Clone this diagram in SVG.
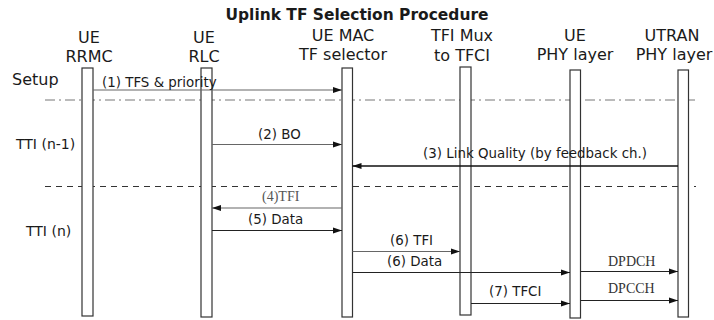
<svg xmlns="http://www.w3.org/2000/svg" width="714" height="320" viewBox="0 0 714 320">
<style>
  .title{font-family:"DejaVu Sans",Verdana,sans-serif;font-weight:bold;font-size:15px;fill:#1a1a1a;text-anchor:middle}
  .hdr{font-family:"DejaVu Sans",Verdana,sans-serif;font-size:16px;fill:#1a1a1a;text-anchor:middle}
  .side{font-family:"DejaVu Sans",Verdana,sans-serif;font-size:14px;fill:#1a1a1a}
  .lbl{font-family:"DejaVu Sans",Verdana,sans-serif;font-size:13.4px;fill:#1a1a1a}
  .ser{font-family:"Liberation Serif","Times New Roman",serif;font-size:14px;fill:#333}
  .bar{fill:#fff;stroke:#333;stroke-width:1.2}
  .msg{fill:none;stroke:#222;stroke-width:1.2}
  .msg.g{stroke:#666}
  .msg.b{stroke:#111;stroke-width:1.6}
  .sep1{stroke:#777;stroke-width:1;stroke-dasharray:10 4 2 4}
  .sep2{stroke:#333;stroke-width:1;stroke-dasharray:6 5}
</style>
<defs>
  <marker id="ah" markerUnits="userSpaceOnUse" markerWidth="10" markerHeight="8" refX="9" refY="4" orient="auto">
    <path d="M0,1 L9,4 L0,7 Z" fill="#111"/>
  </marker>
</defs>
<rect width="714" height="320" fill="#fff"/>
<text class="title" x="357" y="20" textLength="263" lengthAdjust="spacingAndGlyphs">Uplink TF Selection Procedure</text>

<g id="sections">
  <line class="sep1" x1="45" y1="100" x2="696" y2="100"/>
  <line class="sep2" x1="45" y1="186.5" x2="696" y2="186.5"/>
  <text class="side" x="12" y="85" style="font-size:16px">Setup</text>
  <text class="side" x="16" y="149">TTI (n-1)</text>
  <text class="side" x="26" y="236">TTI (n)</text>
</g>

<g id="ue-rrmc">
  <text class="hdr" x="89" y="43">UE</text>
  <text class="hdr" x="89" y="62">RRMC</text>
  <rect class="bar" x="82" y="68" width="11" height="248"/>
</g>
<g id="ue-rlc">
  <text class="hdr" x="204" y="43">UE</text>
  <text class="hdr" x="204" y="62">RLC</text>
  <rect class="bar" x="201" y="68" width="11" height="249"/>
</g>
<g id="ue-mac">
  <text class="hdr" x="343" y="41">UE MAC</text>
  <text class="hdr" x="343" y="59.5">TF selector</text>
  <rect class="bar" x="342" y="68" width="10.5" height="249"/>
</g>
<g id="tfi-mux">
  <text class="hdr" x="462" y="41">TFI Mux</text>
  <text class="hdr" x="462" y="61">to TFCI</text>
  <rect class="bar" x="460" y="67" width="11" height="248"/>
</g>
<g id="ue-phy">
  <text class="hdr" x="575" y="41">UE</text>
  <text class="hdr" x="575" y="60">PHY layer</text>
  <rect class="bar" x="570" y="70" width="10.5" height="248"/>
</g>
<g id="utran-phy">
  <text class="hdr" x="672" y="41">UTRAN</text>
  <text class="hdr" x="674" y="60">PHY layer</text>
  <rect class="bar" x="678" y="70" width="10.5" height="247"/>
</g>

<g id="connectors">
  <line class="msg g" x1="93" y1="90" x2="342" y2="90" marker-end="url(#ah)"/>
  <text class="lbl" x="102" y="87">(1) TFS &amp; priority</text>

  <line class="msg g" x1="212" y1="144.5" x2="342" y2="144.5" marker-end="url(#ah)"/>
  <text class="lbl" x="258" y="139">(2) BO</text>

  <line class="msg b" x1="678" y1="166" x2="352.5" y2="166" marker-end="url(#ah)"/>
  <text class="lbl" x="423" y="158">(3) Link Quality (by feedback ch.)</text>

  <line class="msg g" x1="342" y1="208" x2="212" y2="208" marker-end="url(#ah)"/>
  <text class="ser" x="262" y="201" style="fill:#555">(4)TFI</text>

  <line class="msg" x1="212" y1="230.5" x2="342" y2="230.5" marker-end="url(#ah)"/>
  <text class="lbl" x="248" y="224">(5) Data</text>

  <line class="msg g" x1="352.5" y1="251.5" x2="460" y2="251.5" marker-end="url(#ah)"/>
  <text class="lbl" x="390" y="245">(6) TFI</text>

  <line class="msg" x1="352.5" y1="272.5" x2="570" y2="272.5" marker-end="url(#ah)"/>
  <text class="lbl" x="387" y="265.5">(6) Data</text>

  <line class="msg" x1="471" y1="303.5" x2="570" y2="303.5" marker-end="url(#ah)"/>
  <text class="lbl" x="489" y="296">(7) TFCI</text>

  <line class="msg" x1="580.5" y1="271.5" x2="678" y2="271.5" marker-end="url(#ah)"/>
  <text class="ser" x="608" y="266">DPDCH</text>

  <line class="msg" x1="580.5" y1="300.5" x2="678" y2="300.5" marker-end="url(#ah)"/>
  <text class="ser" x="608" y="292.5">DPCCH</text>
</g>
</svg>
